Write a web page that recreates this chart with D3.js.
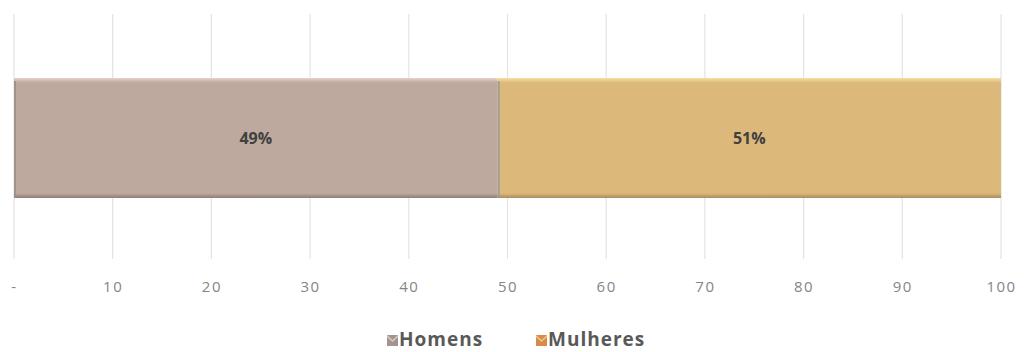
<!DOCTYPE html>
<html>
<head>
<meta charset="utf-8">
<script src="https://cdn.jsdelivr.net/npm/d3@7"></script>
<style>
  html, body { margin: 0; padding: 0; background: #ffffff; }
  svg { display: block; }
</style>
</head>
<body>
<svg id="chart" width="1024" height="352"></svg>
<script>
// Share of respondents by sex (percent)
const series = ["Homens", "Mulheres"];
const values = [49, 51];
const valueLabels = ["49%", "51%"];
const tickValues = [0, 10, 20, 30, 40, 50, 60, 70, 80, 90, 100];
const tickLabels = ["-", "10", "20", "30", "40", "50", "60", "70", "80", "90", "100"];
const colors = ["#bea99e", "#dcb97a"];
const highlight = ["#e6d2c8", "#f6dfa4"];
const shadow = ["#8e7d75", "#a88d5c"];

const svg = d3.select("#chart");
const font = "'Open Sans', Lato, sans-serif";

const x = d3.scaleLinear().domain([0, 100]).range([14, 1001]);
const y = d3.scaleBand().domain(["total"]).range([78, 198]).padding(0);

// vertical gridlines
svg.append("g")
  .selectAll("line")
  .data(tickValues)
  .join("line")
  .attr("x1", d => x(d)).attr("x2", d => x(d))
  .attr("y1", 14).attr("y2", 259)
  .attr("stroke", "#e3e3e3")
  .attr("stroke-width", 1.2);

// stacked segments
const stack = [];
let acc = 0;
values.forEach((v, i) => { stack.push({ i, x0: acc, x1: acc + v }); acc += v; });

const defs = svg.append("defs");
stack.forEach(s => {
  const g = defs.append("linearGradient")
    .attr("id", "grad" + s.i).attr("x1", 0).attr("x2", 0).attr("y1", 0).attr("y2", 1);
  g.append("stop").attr("offset", "0%").attr("stop-color", highlight[s.i]);
  g.append("stop").attr("offset", "4%").attr("stop-color", colors[s.i]);
  g.append("stop").attr("offset", "96%").attr("stop-color", colors[s.i]);
  g.append("stop").attr("offset", "100%").attr("stop-color", shadow[s.i]);
});

const bars = svg.append("g");
bars.selectAll("rect.seg")
  .data(stack)
  .join("rect")
  .attr("class", "seg")
  .attr("x", d => x(d.x0))
  .attr("width", d => x(d.x1) - x(d.x0))
  .attr("y", y("total"))
  .attr("height", y.bandwidth())
  .attr("fill", d => "url(#grad" + d.i + ")");

// left edge shading of each segment
bars.selectAll("rect.edge")
  .data(stack)
  .join("rect")
  .attr("class", "edge")
  .attr("x", d => x(d.x0))
  .attr("width", 2)
  .attr("y", y("total") + 3)
  .attr("height", y.bandwidth() - 3)
  .attr("fill", d => d.i === 0 ? "#9c8c85" : "#8f969c")
  .attr("opacity", 0.8);

// value labels
svg.append("g")
  .selectAll("text")
  .data(stack)
  .join("text")
  .attr("x", d => x((d.x0 + d.x1) / 2))
  .attr("y", y("total") + y.bandwidth() / 2)
  .attr("dy", "0.35em")
  .attr("text-anchor", "middle")
  .attr("font-family", font)
  .attr("font-weight", "bold")
  .attr("font-size", 16)
  .attr("fill", "#404040")
  .text(d => valueLabels[d.i]);

// x axis labels
const axis = d3.axisBottom(x)
  .tickValues(tickValues)
  .tickFormat((d, i) => tickLabels[i])
  .tickSize(0);
const ax = svg.append("g").attr("transform", "translate(0,278)").call(axis);
ax.select(".domain").remove();
ax.selectAll("text")
  .attr("font-family", font)
  .attr("font-size", 15)
  .attr("letter-spacing", 1.5)
  .attr("fill", "#858585")
  .attr("dy", "0.71em");

// legend
const legendX = [387, 536];
const lg = svg.append("g");
series.forEach((name, i) => {
  const g = lg.append("g").attr("transform", `translate(${legendX[i]},335)`);
  g.append("rect").attr("width", 11).attr("height", 11).attr("fill", i === 0 ? "#a3948d" : "#d98a4a");
  g.append("path")
    .attr("d", "M0,0 L5.5,5 L11,0 L11,2 L5.5,7 L0,2 Z")
    .attr("fill", i === 0 ? "#d6ccc6" : "#f0c58a");
  g.append("text")
    .attr("x", 12).attr("y", 11)
    .attr("font-family", font)
    .attr("font-weight", "bold")
    .attr("font-size", 19)
    .attr("letter-spacing", 1)
    .attr("fill", "#595959")
    .text(name);
});
</script>
</body>
</html>
